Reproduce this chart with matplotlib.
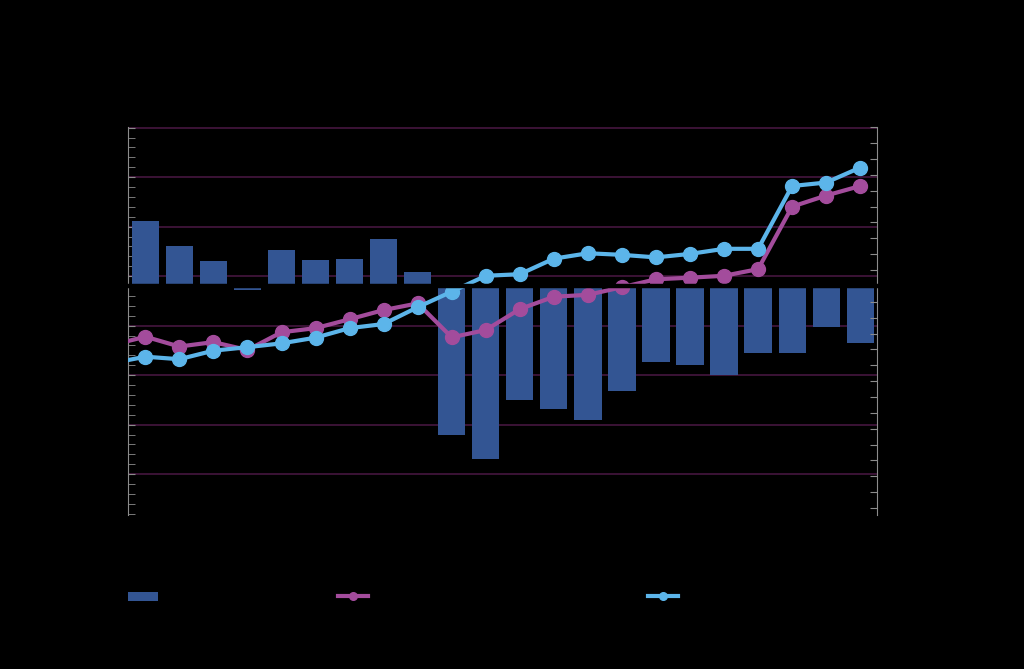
import numpy as np
import matplotlib
matplotlib.use("Agg")
import matplotlib.pyplot as plt
from matplotlib.ticker import MultipleLocator

# data (all labels are black on black in the source)
periods = np.arange(22)
bar_vals = [33.0, 20.4, 12.6, -2.2, 18.2, 13.1, 13.5, 23.9, 6.9,
            -75.3, -87.4, -57.6, -62.1, -67.7, -53.0, -38.4, -39.9,
            -45.0, -33.7, -34.0, -20.9, -28.9]
# line series start one period earlier (clipped at the left edge)
line_x = np.arange(-1, 22)
magenta_vals = [-1.87, -1.60, -1.91, -1.77, -2.02, -1.46, -1.33, -1.05, -0.76,
                -0.55, -1.62, -1.39, -0.73, -0.34, -0.28, -0.04, 0.21, 0.26,
                0.32, 0.53, 2.50, 2.85, 3.15]
blue_vals = [-2.44, -2.23, -2.31, -2.04, -1.93, -1.81, -1.63, -1.33, -1.20,
             -0.67, -0.18, 0.32, 0.37, 0.86, 1.03, 0.98, 0.90, 1.01, 1.17,
             1.17, 3.15, 3.26, 3.73]
labels = ["Series 1", "Series 2", "Series 3"]

bar_col = "#335593"
mag_col = "#A34C9C"
blue_col = "#5CB5EA"
grid_col = "#45163F"
axis_col = "#8C8C8C"

fig = plt.figure(figsize=(10.24, 6.69), dpi=100, facecolor="black")
ax = fig.add_axes([0.1253, 0.2302, 0.7314, 0.5795])
ax.set_facecolor("black")

b = ax.bar(periods, bar_vals, width=0.8, color=bar_col, zorder=2, label=labels[0])
ax.set_xlim(-0.5, 21.5)
ax.set_ylim(-115.6, 80.15)
ax.yaxis.set_major_locator(MultipleLocator(25, offset=5))
ax.yaxis.set_minor_locator(MultipleLocator(5))
ax.grid(axis="y", which="major", color=grid_col, lw=1.2, zorder=0)
ax.set_axisbelow(True)

ax2 = ax.twinx()
ax2.set_ylim(-7.22, 5.0)
ax2.yaxis.set_major_locator(MultipleLocator(0.5))
l1, = ax2.plot(line_x, magenta_vals, color=mag_col, lw=3, marker="o", ms=10,
               zorder=3, label=labels[1])
l2, = ax2.plot(line_x, blue_vals, color=blue_col, lw=3, marker="o", ms=10,
               zorder=4, label=labels[2])
# black category axis line at zero, drawn over everything
ax2.axhline(0, color="black", lw=3.2, zorder=10, clip_on=False)

for a in (ax, ax2):
    a.spines["top"].set_visible(False)
    a.spines["bottom"].set_visible(False)
    a.spines["left"].set_color(axis_col)
    a.spines["right"].set_color(axis_col)
    a.tick_params(axis="x", bottom=False, labelbottom=False)
ax.spines["right"].set_visible(False)
ax2.spines["left"].set_visible(False)
ax.tick_params(axis="y", which="both", direction="in", color=axis_col,
               length=5, labelcolor="black")
ax2.tick_params(axis="y", which="both", direction="in", color=axis_col,
                length=5, labelcolor="black")

# legend entries, one per series, placed below the plot
fs = 10
for h, lab, xpos in [(b, labels[0], 0.125), (l1, labels[1], 0.330), (l2, labels[2], 0.633)]:
    kw = dict(markersize=5) if h is not b else {}
    leg = fig.legend(handles=[h], labels=[lab], loc="center left",
                     bbox_to_anchor=(xpos, 1 - 597 / 669), frameon=False,
                     fontsize=fs, handlelength=2.15, handleheight=0.6,
                     borderpad=0, borderaxespad=0, handletextpad=0.5,
                     labelcolor="black", markerscale=0.55)

fig.savefig("out.png", dpi=100, facecolor="black")
